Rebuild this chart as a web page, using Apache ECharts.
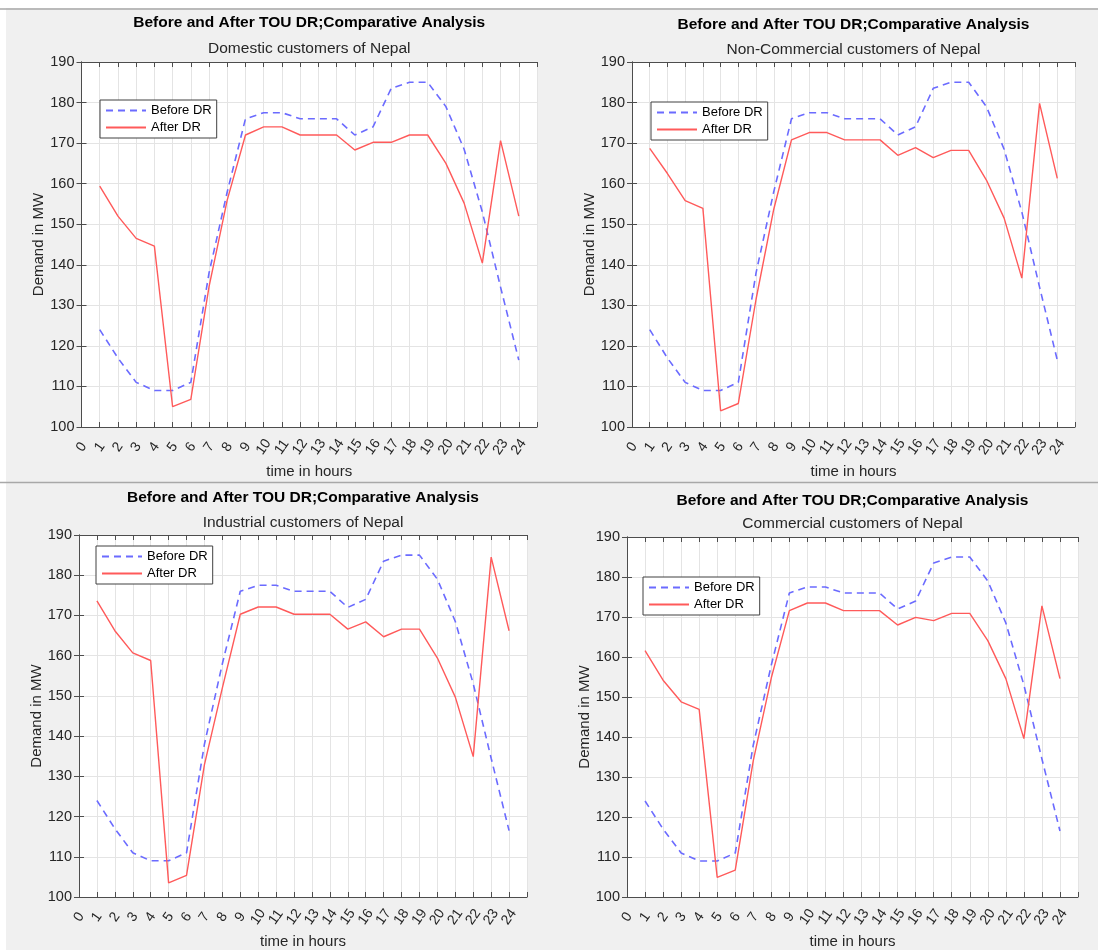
<!DOCTYPE html>
<html>
<head>
<meta charset="utf-8">
<script src="https://cdn.jsdelivr.net/npm/echarts@6/dist/echarts.min.js"></script>
<style>
  html, body { margin: 0; padding: 0; background: #f0f0f0; }
  #chart { width: 1098px; height: 950px; }
</style>
</head>
<body>
<div id="chart"></div>
<script>
// hours of the day (x values of every point)
const hours = [1, 2, 3, 4, 5, 6, 7, 8, 9, 10, 11, 12, 13, 14, 15, 16, 17, 18, 19, 20, 21, 22, 23, 24];
const xTicks = [0, 1, 2, 3, 4, 5, 6, 7, 8, 9, 10, 11, 12, 13, 14, 15, 16, 17, 18, 19, 20, 21, 22, 23, 24];

// demand in MW, same base load in every panel
const beforeDR = [124, 117, 111, 109, 109, 111, 138, 158, 176, 177.5, 177.5, 176, 176, 176, 172, 174, 183.5, 185, 185, 179, 168.5, 153, 134.5, 116.5];

const afterDomestic = [159.4, 152, 146.5, 144.6, 105, 106.8, 134.6, 156, 172, 174, 174, 172, 172, 172, 168.3, 170.2, 170.2, 172, 172, 165, 155.2, 140.4, 170.6, 152];
const afterNonCommercial = [168.7, 162.5, 155.8, 153.9, 104, 105.8, 131.5, 153.7, 170.8, 172.6, 172.6, 170.8, 170.8, 170.8, 167, 168.9, 166.4, 168.2, 168.2, 160.9, 151.5, 136.7, 179.8, 161.3];
const afterIndustrial = [173.6, 166.2, 160.7, 158.8, 103.5, 105.4, 132.9, 152, 170.3, 172.1, 172.1, 170.3, 170.3, 170.3, 166.6, 168.4, 164.7, 166.6, 166.6, 159.4, 149.7, 134.9, 184.5, 166.2];
const afterCommercial = [161.6, 154.2, 148.8, 146.9, 104.9, 106.7, 134.1, 154.8, 171.6, 173.5, 173.5, 171.6, 171.6, 171.6, 168, 169.9, 169.1, 170.9, 170.9, 164.1, 154.6, 139.6, 172.8, 154.6];

const mainTitle = 'Before and After TOU DR;Comparative Analysis';
const subTitles = ['Domestic customers of Nepal', 'Non-Commercial customers of Nepal', 'Industrial customers of Nepal', 'Commercial customers of Nepal'];
const afterSets = [afterDomestic, afterNonCommercial, afterIndustrial, afterCommercial];
const seriesNames = ['Before DR', 'After DR'];

const FONT = '"Liberation Sans", Arial, sans-serif';

// plot boxes (px) and where the title / legend sit for each panel
const panels = [
  { left: 81.5, top: 62, width: 455.5, height: 365, titleY: 15, subY: 41, legend: [100, 100] },
  { left: 632, top: 62, width: 443, height: 365, titleY: 17, subY: 42, legend: [651, 102] },
  { left: 79, top: 535, width: 448, height: 365, titleY: 490, subY: 515, legend: [96, 546] },
  { left: 627, top: 537, width: 451, height: 363, titleY: 493, subY: 516, legend: [643, 577] }
];

const pairs = vals => hours.map((h, i) => [h, vals[i]]);

const grid = [], xAxis = [], yAxis = [], series = [], title = [], legend = [];

panels.forEach((p, i) => {
  grid.push({ left: p.left, top: p.top, width: p.width, height: p.height, backgroundColor: '#fff', show: true, borderWidth: 0 });
  const cx = p.left + p.width / 2;

  title.push({
    text: mainTitle, left: cx, top: p.titleY, textAlign: 'center', padding: 0,
    textStyle: { fontFamily: FONT, fontSize: 15.5, fontWeight: 'bold', color: '#000' }
  });
  title.push({
    text: subTitles[i], left: cx, top: p.subY, textAlign: 'center', padding: 0,
    textStyle: { fontFamily: FONT, fontSize: 15.5, fontWeight: 'normal', color: '#262626' }
  });

  const axisLine = { show: true, lineStyle: { color: '#4d4d4d', width: 1 } };
  const tick = { show: true, inside: true, length: 5, lineStyle: { color: '#4d4d4d' } };

  xAxis.push({
    type: 'value', gridIndex: i, min: 0, max: 25, interval: 1, position: 'bottom',
    name: 'time in hours', nameLocation: 'middle', nameGap: 37,
    nameTextStyle: { fontFamily: FONT, fontSize: 15, color: '#262626' },
    axisLine, axisTick: tick,
    axisLabel: {
      rotate: 55, margin: 20, align: 'center', verticalAlign: 'middle',
      fontFamily: FONT, fontSize: 14, color: '#262626',
      formatter: v => (xTicks.indexOf(v) >= 0 ? String(v) : '')
    },
    splitLine: { show: true, lineStyle: { color: '#e4e4e4', width: 1 } }
  });
  xAxis.push({
    type: 'value', gridIndex: i, min: 0, max: 25, interval: 1, position: 'top',
    axisLine, axisTick: tick, axisLabel: { show: false }, splitLine: { show: false }
  });

  yAxis.push({
    type: 'value', gridIndex: i, min: 100, max: 190, interval: 10, position: 'left',
    name: 'Demand in MW', nameLocation: 'middle', nameGap: 35,
    nameTextStyle: { fontFamily: FONT, fontSize: 15, color: '#262626' },
    axisLine, axisTick: tick,
    axisLabel: { margin: 7, fontFamily: FONT, fontSize: 14.5, color: '#262626' },
    splitLine: { show: true, lineStyle: { color: '#e4e4e4', width: 1 } }
  });
  yAxis.push({
    type: 'value', gridIndex: i, min: 100, max: 190, interval: 10, position: 'right',
    axisLine, axisTick: tick, axisLabel: { show: false }, splitLine: { show: false }
  });

  series.push({
    name: seriesNames[0], type: 'line', xAxisIndex: i * 2, yAxisIndex: i * 2,
    data: pairs(beforeDR), symbol: 'none', silent: true,
    lineStyle: { color: '#6b6bff', width: 1.6, type: [7, 5] }, itemStyle: { color: '#6b6bff' }
  });
  series.push({
    name: seriesNames[1], type: 'line', xAxisIndex: i * 2, yAxisIndex: i * 2,
    data: pairs(afterSets[i]), symbol: 'none', silent: true,
    lineStyle: { color: '#ff5a5a', width: 1.4 }, itemStyle: { color: '#ff5a5a' }
  });

  legend.push({
    data: seriesNames, orient: 'vertical', left: p.legend[0], top: p.legend[1],
    backgroundColor: '#fff', borderColor: '#404040', borderWidth: 1, borderRadius: 0,
    padding: [4, 5, 4, 5], itemWidth: 40, itemHeight: 14, itemGap: 4,
    itemStyle: { opacity: 0 },
    textStyle: { fontFamily: FONT, fontSize: 13, color: '#000' },
    selectedMode: false
  });
});

const chart = echarts.init(document.getElementById('chart'));
chart.setOption({
  animation: false,
  backgroundColor: '#f0f0f0',
  graphic: [
    { type: 'rect', shape: { x: 0, y: 0, width: 1098, height: 8 }, style: { fill: '#fff' }, silent: true },
    { type: 'rect', shape: { x: 0, y: 0, width: 6, height: 950 }, style: { fill: '#fff' }, silent: true },
    { type: 'line', shape: { x1: 0, y1: 9, x2: 1098, y2: 9 }, style: { stroke: '#a8a8a8', lineWidth: 1.5 }, silent: true },
    { type: 'line', shape: { x1: 0, y1: 482.5, x2: 1098, y2: 482.5 }, style: { stroke: '#a8a8a8', lineWidth: 1.5 }, silent: true }
  ],
  title, legend, grid, xAxis, yAxis, series
});
</script>
</body>
</html>
